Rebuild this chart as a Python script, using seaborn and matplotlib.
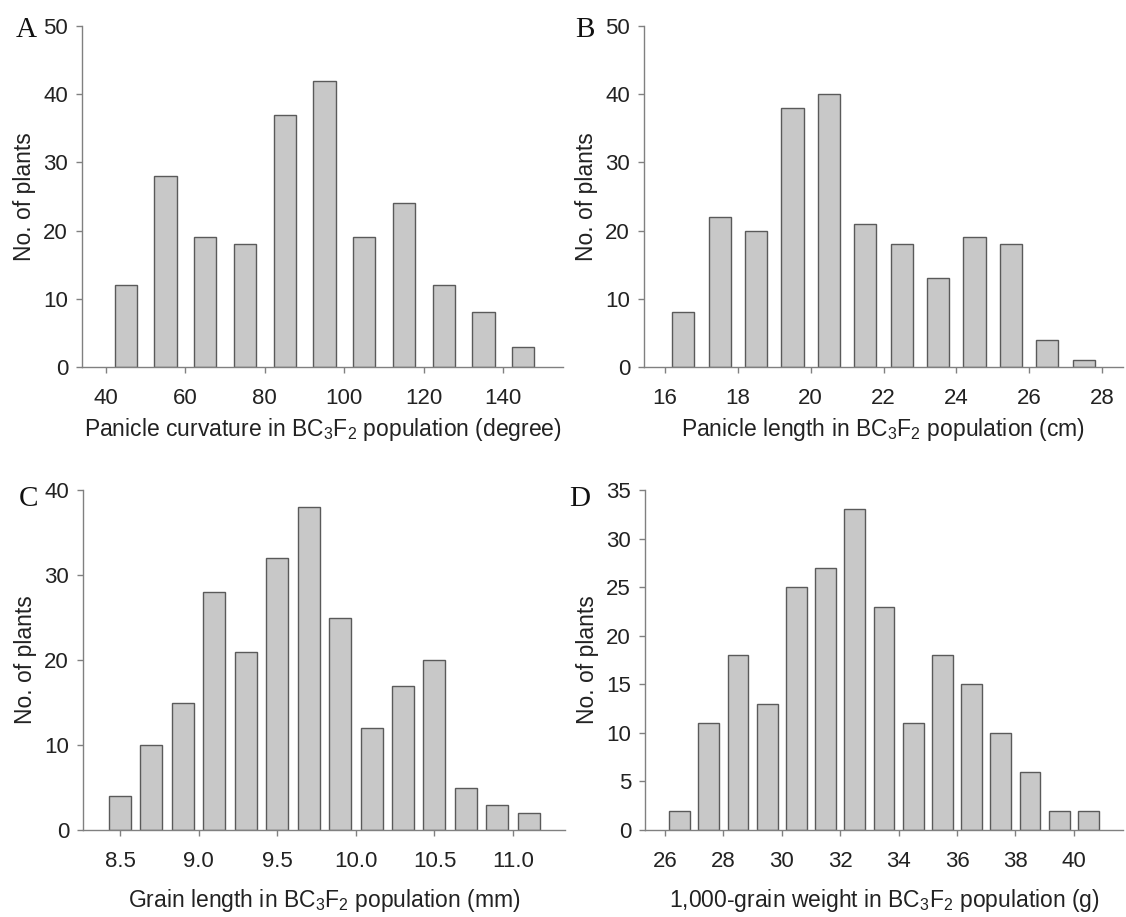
import matplotlib
matplotlib.use("Agg")
import matplotlib.pyplot as plt
import seaborn as sns

# panel A: panicle curvature (degree)
curv_bins = [45, 55, 65, 75, 85, 95, 105, 115, 125, 135, 145]
curv_counts = [12, 28, 19, 18, 37, 42, 19, 24, 12, 8, 3]
curv_ticks = [40, 60, 80, 100, 120, 140]

# panel B: panicle length (cm)
plen_bins = [16.5, 17.5, 18.5, 19.5, 20.5, 21.5, 22.5, 23.5, 24.5, 25.5, 26.5, 27.5]
plen_counts = [8, 22, 20, 38, 40, 21, 18, 13, 19, 18, 4, 1]
plen_ticks = [16, 18, 20, 22, 24, 26, 28]

# panel C: grain length (mm)
glen_bins = [8.5, 8.7, 8.9, 9.1, 9.3, 9.5, 9.7, 9.9, 10.1, 10.3, 10.5, 10.7, 10.9, 11.1]
glen_counts = [4, 10, 15, 28, 21, 32, 38, 25, 12, 17, 20, 5, 3, 2]
glen_ticks = [8.5, 9.0, 9.5, 10.0, 10.5, 11.0]

# panel D: 1,000-grain weight (g)
gw_bins = [26.5, 27.5, 28.5, 29.5, 30.5, 31.5, 32.5, 33.5, 34.5, 35.5, 36.5, 37.5, 38.5, 39.5, 40.5]
gw_counts = [2, 11, 18, 13, 25, 27, 33, 23, 11, 18, 15, 10, 6, 2, 2]
gw_ticks = [26, 28, 30, 32, 34, 36, 38, 40]

sns.set_style("ticks")
plt.rcParams["font.family"] = ["Liberation Sans", "DejaVu Sans"]
plt.rcParams["mathtext.fontset"] = "custom"
plt.rcParams["mathtext.rm"] = "Liberation Sans"
plt.rcParams["mathtext.it"] = "Liberation Sans"

AXCOL = "#808080"
BARCOL = "#c8c8c8"
EDGECOL = "#5a5a5a"

panels = [
    dict(x=curv_bins, y=curv_counts, ticks=curv_ticks, fmt="{:g}", w=0.56,
         xlim=(34, 155), ylim=50, ystep=10, lpad=5,
         xlabel="Panicle curvature in BC$_3$F$_2$ population (degree)",
         pos=[82, 563, 367, 26], letter="A", lpos=(16, 37)),
    dict(x=plen_bins, y=plen_counts, ticks=plen_ticks, fmt="{:g}", w=0.61,
         xlim=(15.42, 28.58), ylim=50, ystep=10, lpad=5,
         xlabel="Panicle length in BC$_3$F$_2$ population (cm)",
         pos=[644, 1123, 367, 26], letter="B", lpos=(575, 37)),
    dict(x=glen_bins, y=glen_counts, ticks=glen_ticks, fmt="{:.1f}", w=0.70,
         xlim=(8.265, 11.33), ylim=40, ystep=10, lpad=11,
         xlabel="Grain length in BC$_3$F$_2$ population (mm)",
         pos=[83, 565, 830, 490], letter="C", lpos=(19, 506)),
    dict(x=gw_bins, y=gw_counts, ticks=gw_ticks, fmt="{:g}", w=0.71,
         xlim=(25.32, 41.68), ylim=35, ystep=5, lpad=11,
         xlabel="1,000-grain weight in BC$_3$F$_2$ population (g)",
         pos=[645, 1123, 830, 490], letter="D", lpos=(569, 506)),
]

W, H = 1126, 917
fig = plt.figure(figsize=(W / 100, H / 100), dpi=100)

for p in panels:
    l, r, b, t = p["pos"]
    ax = fig.add_axes([l / W, 1 - b / H, (r - l) / W, (b - t) / H])
    sns.barplot(x=p["x"], y=p["y"], native_scale=True, width=p["w"],
                color=BARCOL, saturation=1, edgecolor=EDGECOL,
                linewidth=1.0, ax=ax)
    ax.set_xlim(*p["xlim"])
    ax.set_ylim(0, p["ylim"])
    ax.set_xticks(p["ticks"])
    ax.set_xticklabels([p["fmt"].format(v) for v in p["ticks"]])
    ax.set_yticks(range(0, p["ylim"] + 1, p["ystep"]))
    sns.despine(ax=ax)
    for s in ["left", "bottom"]:
        ax.spines[s].set_color(AXCOL)
        ax.spines[s].set_linewidth(1.0)
    ax.tick_params(axis="both", colors=AXCOL, labelcolor="#222222",
                   length=4, width=1.0, labelsize=16)
    ax.tick_params(axis="x", pad=11)
    ax.tick_params(axis="y", pad=6)
    ax.set_xlabel(p["xlabel"], fontsize=16.5, color="#222222",
                  labelpad=p["lpad"])
    ax.set_ylabel("No. of plants", fontsize=16.5, color="#222222",
                  labelpad=5)
    fig.text(p["lpos"][0] / W, 1 - p["lpos"][1] / H, p["letter"],
             family="Liberation Serif", fontsize=21, color="#111111",
             ha="left", va="baseline")

fig.savefig("out.png", dpi=100)
